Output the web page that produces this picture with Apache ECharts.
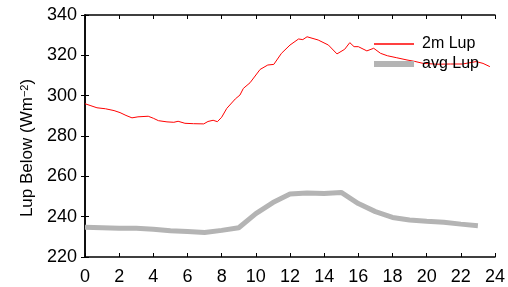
<!DOCTYPE html>
<html>
<head>
<meta charset="utf-8">
<script src="https://cdn.jsdelivr.net/npm/echarts@6/dist/echarts.min.js"></script>
<style>
 html,body{margin:0;padding:0;background:#fff;}
 #chart{width:508px;height:287px;}
</style>
</head>
<body>
<div id="chart"></div>
<script>
// 2m Lup, traced (hour, W m-2)
var lup2m = [
 [0,296],[0.35,295],[0.7,294],[1.2,293.5],[1.7,292.6],[2.05,291.6],[2.4,290.2],[2.75,289],
 [3.1,289.5],[3.7,289.8],[4.0,288.8],[4.3,287.6],[4.8,287],[5.2,286.8],[5.45,287.3],[5.85,286.3],
 [6.35,286.1],[6.95,286],[7.2,287.2],[7.5,287.8],[7.75,287.1],[8.0,289.3],[8.3,293.7],[8.8,298.4],
 [9.07,300.3],[9.27,303.6],[9.66,306.4],[10.25,313],[10.7,315.2],[11.05,315.5],[11.5,321],[12.0,325.1],
 [12.5,328.1],[12.75,327.8],[13.0,329.2],[13.65,327.6],[14.25,325.1],[14.75,320.7],[15.2,323],[15.5,326.3],
 [15.75,324.3],[16.0,324.3],[16.5,322.2],[16.9,323.5],[17.3,321],[17.7,319.8],[18.25,318.8],[18.85,317.7],
 [19.3,317],[19.8,316],[20.6,315.6],[21.4,315.7],[22.1,315.7],[22.9,316.9],[23.3,316],[23.7,314.4]
];

// hourly avg Lup
var avgHours = [0,1,2,3,4,5,6,7,8,9,10,11,12,13,14,15,16,17,18,19,20,21,22,23];
var avgLup = [234.7,234.5,234.3,234.2,233.8,233.0,232.6,232.2,233.2,234.5,241.5,247,251.2,251.7,251.5,252,246.5,242.5,239.6,238.3,237.7,237.2,236.3,235.5];

var seriesNames = ["2m Lup","avg Lup"];

var avgData = avgHours.map(function(h,i){ return [h, avgLup[i]]; });

var font = "Liberation Sans";
var chart = echarts.init(document.getElementById("chart"));

var axisCommon = {
 axisLine:{lineStyle:{color:"#000",width:1.5}},
 axisTick:{inside:true,length:4,lineStyle:{color:"#000",width:1}},
 splitLine:{show:false}
};

var option = {
 animation:false,
 grid:{left:85,right:13,top:15,bottom:30},
 legend:{
   orient:"vertical",
   left:369, top:31,
   itemWidth:40, itemHeight:16, itemGap:4,
   symbolKeepAspect:true,
   textStyle:{fontFamily:font,fontSize:16,color:"#000",padding:[0,0,0,3]},
   data:[
    {name:seriesNames[0],icon:"path://M0,0L40,0L40,1.5L0,1.5Z"},
    {name:seriesNames[1],icon:"path://M0,0L40,0L40,6L0,6Z"}
   ]
 },
 xAxis:[
  Object.assign({type:"value",min:0,max:24,interval:2,position:"bottom",
   axisLabel:{fontFamily:font,fontSize:18,color:"#000",margin:11}},axisCommon),
  Object.assign({type:"value",min:0,max:24,interval:2,position:"top",
   axisLabel:{show:false}},axisCommon)
 ],
 yAxis:[
  Object.assign({type:"value",min:220,max:340,interval:20,position:"left",
   name:"{a|Lup Below (Wm}{s|−2}{a|)}",
   nameLocation:"middle",nameGap:48,
   nameTextStyle:{padding:[0,24,0,0],rich:{
     a:{fontFamily:font,fontSize:17,color:"#000"},
     s:{fontFamily:font,fontSize:11,color:"#000",verticalAlign:"top"}
   }},
   axisLabel:{fontFamily:font,fontSize:18,color:"#000",margin:8}},axisCommon),
  Object.assign({type:"value",min:220,max:340,interval:20,position:"right",
   axisLabel:{show:false}},axisCommon)
 ],
 series:[
  {name:seriesNames[0],type:"line",symbol:"none",data:lup2m,
   lineStyle:{color:"#ff0000",width:1},itemStyle:{color:"#ff0000"},z:3},
  {name:seriesNames[1],type:"line",symbol:"none",data:avgData,
   lineStyle:{color:"#b4b4b4",width:5},itemStyle:{color:"#b4b4b4"},z:2}
 ]
};
chart.setOption(option);
</script>
</body>
</html>
